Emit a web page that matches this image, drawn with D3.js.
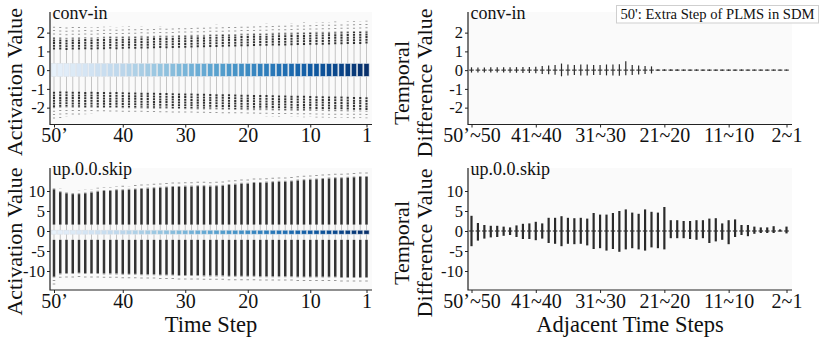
<!DOCTYPE html>
<html>
<head>
<meta charset="utf-8">
<script src="https://cdn.jsdelivr.net/npm/d3@7"></script>
<style>
  body { margin: 0; background: #fff; }
  svg text { font-family: "Liberation Serif", "Times New Roman", serif; fill: #111; }
</style>
</head>
<body>
<svg id="chart" width="831" height="338"></svg>
<script>
// categories
const steps = ["50’","50","49","48","47","46","45","44","43","42","41","40","39","38","37","36","35","34","33","32","31","30",
  "29","28","27","26","25","24","23","22","21","20","19","18","17","16","15","14","13","12","11","10",
  "9","8","7","6","5","4","3","2","1"];
const pairs = steps.slice(0, -1).map((s, i) => `${s}~${steps[i + 1]}`);
const stepTicks = ["50’","40","30","20","10","1"];
const pairTicks = ["50’~50","41~40","31~30","21~20","11~10","2~1"];

// conv-in activation (box: q1, median, q3)
const convBox = [-0.33, 0.0, 0.35];
const convWhHi = [1.10,1.10,1.08,1.10,1.10,1.12,1.10,1.12,1.12,1.14,1.12,1.14,1.15,1.14,1.16,1.15,1.17,1.18,1.17,1.18,
  1.20,1.20,1.21,1.22,1.22,1.24,1.24,1.25,1.26,1.26,1.28,1.28,1.29,1.30,1.30,1.31,1.32,1.32,1.33,1.34,
  1.34,1.35,1.36,1.36,1.37,1.38,1.38,1.39,1.40,1.40,1.42];
const convHiDense = [1.72,1.70,1.68,1.70,1.70,1.72,1.70,1.72,1.74,1.75,1.74,1.75,1.76,1.76,1.78,1.77,1.78,1.80,1.79,1.80,
  1.82,1.82,1.83,1.84,1.84,1.86,1.86,1.87,1.88,1.88,1.90,1.90,1.91,1.92,1.92,1.94,1.95,1.95,1.96,1.97,
  1.97,1.98,1.99,2.00,2.00,2.01,2.02,2.02,2.03,2.04,2.05];
const convHiMax = [2.35,2.30,2.28,2.30,2.32,2.30,2.28,2.30,2.31,2.32,2.30,2.31,2.33,2.30,2.34,2.32,2.33,2.36,2.32,2.30,
  2.33,2.30,2.34,2.36,2.38,2.35,2.42,2.38,2.40,2.42,2.44,2.42,2.46,2.44,2.47,2.49,2.50,2.48,2.51,2.52,
  2.54,2.52,2.55,2.57,2.55,2.59,2.57,2.60,2.62,2.60,2.64];
const convWhLo = [-1.15,-1.14,-1.14,-1.15,-1.15,-1.16,-1.15,-1.16,-1.17,-1.18,-1.17,-1.18,-1.19,-1.19,-1.20,-1.20,-1.21,-1.22,-1.22,-1.23,
  -1.24,-1.24,-1.25,-1.26,-1.26,-1.27,-1.28,-1.28,-1.29,-1.30,-1.31,-1.31,-1.32,-1.33,-1.33,-1.34,-1.35,-1.35,-1.36,-1.37,
  -1.37,-1.38,-1.39,-1.39,-1.40,-1.41,-1.41,-1.42,-1.43,-1.43,-1.45];
const convLoDense = [-1.98,-1.95,-1.94,-1.95,-1.95,-1.96,-1.95,-1.96,-1.96,-1.97,-1.97,-1.98,-1.98,-1.99,-1.99,-2.00,-2.00,-2.01,-2.01,-2.02,
  -2.02,-2.03,-2.03,-2.04,-2.04,-2.05,-2.05,-2.06,-2.06,-2.07,-2.07,-2.08,-2.08,-2.09,-2.09,-2.10,-2.10,-2.11,-2.11,-2.12,
  -2.12,-2.12,-2.13,-2.13,-2.14,-2.14,-2.14,-2.15,-2.15,-2.15,-2.16];
const convLoMin = [-2.62,-2.55,-2.50,-2.45,-2.38,-2.35,-2.32,-2.30,-2.30,-2.32,-2.30,-2.31,-2.32,-2.30,-2.33,-2.32,-2.33,-2.35,-2.33,-2.34,
  -2.35,-2.34,-2.36,-2.37,-2.38,-2.37,-2.40,-2.40,-2.41,-2.42,-2.43,-2.42,-2.45,-2.44,-2.46,-2.47,-2.48,-2.47,-2.49,-2.50,
  -2.51,-2.50,-2.52,-2.53,-2.52,-2.54,-2.53,-2.55,-2.56,-2.55,-2.57];

// up.0.0.skip activation
const upBox = [-0.8, -0.3, 0.2];
const upWhHi = 1.6;
const upWhLo = -2.2;
const upHiDense = [10.4,9.7,9.4,9.2,9.2,9.4,9.6,9.8,10.0,10.0,10.2,10.2,10.3,10.4,10.5,10.6,10.7,10.8,10.9,11.0,
  11.0,11.1,11.1,11.2,11.2,11.1,11.2,11.3,11.5,11.6,11.8,11.8,12.0,12.0,12.1,12.2,12.3,12.3,12.4,12.6,
  12.7,12.8,12.9,13.0,13.1,13.2,13.2,13.3,13.4,13.5,13.5];
const upHiMax = [11.0,10.6,10.2,10.0,10.1,10.3,10.5,10.8,11.0,11.0,11.2,11.3,11.2,11.5,11.6,11.6,11.8,11.9,12.0,12.1,
  12.1,12.3,12.5,12.4,12.8,12.6,12.4,12.7,12.9,13.0,13.2,13.3,13.5,13.4,13.6,13.6,13.8,13.7,13.9,14.0,
  14.1,14.2,14.3,14.3,14.5,14.6,14.5,14.6,14.7,14.8,14.8];
const upLoDense = [-11.4,-10.6,-10.5,-10.5,-10.4,-10.5,-10.5,-10.5,-10.6,-10.6,-10.6,-10.7,-10.7,-10.7,-10.8,-10.8,-10.8,-10.9,-10.9,-10.9,
  -11.0,-11.0,-11.0,-11.0,-11.1,-11.1,-11.1,-11.1,-11.2,-11.2,-11.2,-11.2,-11.2,-11.3,-11.3,-11.3,-11.3,-11.3,-11.3,-11.4,
  -11.4,-11.4,-11.4,-11.4,-11.4,-11.4,-11.5,-11.5,-11.5,-11.5,-11.5];
const upLoMin = [-13.9,-12.0,-11.8,-11.6,-11.6,-11.7,-11.6,-11.7,-11.8,-11.9,-11.8,-11.9,-12.0,-12.0,-12.1,-12.2,-12.3,-12.1,-12.2,-12.3,
  -12.5,-12.4,-12.6,-12.5,-12.7,-12.6,-12.8,-12.5,-12.7,-12.9,-12.6,-12.8,-12.7,-12.9,-12.8,-13.0,-12.8,-12.9,-13.0,-12.8,
  -12.9,-13.0,-12.9,-13.1,-12.9,-13.0,-13.1,-13.0,-12.9,-13.0,-13.1];

// temporal differences (box q1/q3, extremes)
const convDiffBox = [-0.03, 0.03];
const convDiffHi = [0.15,0.14,0.14,0.15,0.15,0.15,0.16,0.16,0.17,0.17,0.18,0.22,0.25,0.28,0.35,0.30,0.28,0.30,0.30,0.28,
  0.28,0.30,0.30,0.32,0.48,0.28,0.25,0.22,0.20,0.05,0.05,0.05,0.05,0.04,0.04,0.04,0.04,0.04,0.04,0.04,
  0.04,0.04,0.04,0.03,0.03,0.03,0.03,0.03,0.03,0.03];
const convDiffLo = [-0.13,-0.12,-0.12,-0.13,-0.13,-0.13,-0.14,-0.14,-0.15,-0.15,-0.16,-0.20,-0.22,-0.25,-0.33,-0.28,-0.26,-0.28,-0.28,-0.26,
  -0.26,-0.28,-0.28,-0.30,-0.27,-0.26,-0.23,-0.20,-0.18,-0.05,-0.05,-0.05,-0.05,-0.04,-0.04,-0.04,-0.04,-0.04,-0.04,-0.04,
  -0.04,-0.04,-0.04,-0.03,-0.03,-0.03,-0.03,-0.03,-0.03,-0.03];
const upDiffBox = [-0.15, 0.15];
const upDiffHi = [3.8,2.0,1.5,1.3,1.3,1.1,0.9,1.4,1.8,1.9,2.3,1.9,3.3,3.3,3.7,3.3,3.2,3.3,3.1,4.5,4.1,
  4.1,4.5,5.0,5.4,4.6,4.3,5.4,4.8,4.6,6.0,2.7,2.7,2.5,2.5,2.7,2.7,3.1,3.2,1.9,2.7,2.9,1.5,1.5,1.1,0.9,0.9,1.2,0.4,1.1];
const upDiffLo = [-3.8,-2.4,-1.9,-1.6,-1.5,-1.2,-1.0,-1.5,-2.0,-2.0,-2.3,-1.9,-3.0,-3.2,-3.8,-3.2,-3.3,-3.2,-3.6,-4.5,-4.3,
  -4.9,-4.5,-5.2,-4.6,-4.3,-4.6,-4.9,-4.1,-4.3,-4.6,-1.8,-1.8,-1.8,-2.0,-2.2,-1.8,-3.0,-2.6,-2.2,-3.3,-1.5,-1.0,-1.3,-0.7,-0.5,-0.5,-0.5,-0.1,-0.6];

const svg = d3.select('#chart');
const val = (a, i) => Array.isArray(a) ? a[i] : a;
const blues = i => d3.interpolateBlues(0.08 + 0.92 * i / 50);

function frame(p) {
  const g = svg.append('g');
  g.append('rect').attr('x', p.left).attr('y', p.top)
    .attr('width', p.right - p.left).attr('height', p.bottom - p.top).attr('fill', '#fafafa');
  const x = d3.scalePoint().domain(p.cats).range(p.xr);
  const y = d3.scaleLinear().domain(p.yd).range([p.bottom, p.top]);

  const ya = g.append('g').attr('transform', `translate(${p.left},0)`)
    .call(d3.axisLeft(y).tickValues(p.yTicks).tickSize(3).tickPadding(2).tickFormat(d => String(d)));
  ya.selectAll('text').attr('font-size', 16.5);
  const xa = g.append('g').attr('transform', `translate(0,${p.bottom})`)
    .call(d3.axisBottom(x).tickValues(p.xTicks).tickSize(3).tickPadding(0.5));
  xa.selectAll('text').attr('font-size', 20);
  g.selectAll('.domain').remove();
  g.selectAll('.tick line').attr('stroke', '#222');

  g.append('path').attr('d', `M${p.left},${p.top}V${p.bottom}H${p.right}`)
    .attr('fill', 'none').attr('stroke', '#222').attr('stroke-width', 1.2);
  g.append('text').attr('x', p.left + 2.5).attr('y', p.top + 7).attr('font-size', 18).text(p.title);
  return { g, x, y };
}

function activation(p, d) {
  const { g, x, y } = frame(p);
  const w = 5.2;
  const m = g.append('g');
  p.cats.forEach((c, i) => {
    const cx = x(c);
    const seg = (a, b, col, sw, dash) => m.append('line').attr('x1', cx).attr('x2', cx)
      .attr('y1', y(a)).attr('y2', y(b)).attr('stroke', col).attr('stroke-width', sw)
      .attr('stroke-dasharray', dash || null);
    seg(d.box[2], val(d.whHi, i), '#c4c4c4', 1);
    seg(d.box[0], val(d.whLo, i), '#c4c4c4', 1);
    seg(d.hiDense[i], d.hiMax[i], '#999', d.ow, '1,2.4');
    seg(d.loDense[i], d.loMin[i], '#999', d.ow, '1,2.4');
    seg(val(d.whHi, i), d.hiDense[i], '#333', d.ow, d.tex);
    seg(val(d.whLo, i), d.loDense[i], '#333', d.ow, d.tex);
    m.append('rect').attr('x', cx - w / 2).attr('width', w)
      .attr('y', y(d.box[2])).attr('height', y(d.box[0]) - y(d.box[2]))
      .attr('fill', blues(i)).attr('stroke', 'rgba(215,222,230,0.9)').attr('stroke-width', 0.6);
  });
}

function difference(p, d) {
  const { g, x, y } = frame(p);
  const w = 4.6;
  const m = g.append('g');
  p.cats.forEach((c, i) => {
    const cx = x(c);
    m.append('line').attr('x1', cx).attr('x2', cx)
      .attr('y1', y(d.hi[i])).attr('y2', y(d.lo[i]))
      .attr('stroke', '#2a2a2a').attr('stroke-width', d.lw);
    m.append('rect').attr('x', cx - w / 2).attr('width', w)
      .attr('y', y(d.box[1])).attr('height', Math.max(1, y(d.box[0]) - y(d.box[1])))
      .attr('fill', '#333');
  });
}

const topRow = { top: 12, bottom: 124.5, yd: [-2.9, 3.1], yTicks: [-2, -1, 0, 1, 2] };
const botRow = { top: 168, bottom: 290, yd: [-14.75, 15.75], yTicks: [-10, -5, 0, 5, 10] };
const leftCol = { left: 50, right: 372, xr: [54, 366.5], cats: steps, xTicks: stepTicks };
const rightCol = { left: 468, right: 792, xr: [471.5, 786.5], cats: pairs, xTicks: pairTicks };

activation({ ...topRow, ...leftCol, title: 'conv-in' },
  { box: convBox, whHi: convWhHi, whLo: convWhLo, hiDense: convHiDense, hiMax: convHiMax, loDense: convLoDense, loMin: convLoMin, ow: 2.1, tex: '2,0.7' });
activation({ ...botRow, ...leftCol, title: 'up.0.0.skip' },
  { box: upBox, whHi: upWhHi, whLo: upWhLo, hiDense: upHiDense, hiMax: upHiMax, loDense: upLoDense, loMin: upLoMin, ow: 2.5 });
difference({ ...topRow, ...rightCol, title: 'conv-in' }, { box: convDiffBox, hi: convDiffHi, lo: convDiffLo, lw: 1.2 });
difference({ ...botRow, ...rightCol, title: 'up.0.0.skip' }, { box: upDiffBox, hi: upDiffHi, lo: upDiffLo, lw: 2.2 });

// axis titles
const yTitle = (x, cy, lines) => {
  const t = svg.append('text').attr('transform', `translate(${x},${cy}) rotate(-90)`)
    .attr('text-anchor', 'middle').attr('font-size', 22);
  lines.forEach((l, k) => t.append('tspan').attr('x', 0).attr('dy', k ? 23 : 0).text(l));
};
yTitle(21.5, 82, ['Activation Value']);
yTitle(21.5, 241.5, ['Activation Value']);
yTitle(409, 83, ['Temporal', 'Difference Value']);
yTitle(409, 243, ['Temporal', 'Difference Value']);
svg.append('text').attr('x', 211).attr('y', 331.5).attr('text-anchor', 'middle').attr('font-size', 22.5).text('Time Step');
svg.append('text').attr('x', 630).attr('y', 331.5).attr('text-anchor', 'middle').attr('font-size', 22.5).text('Adjacent Time Steps');

// note box
svg.append('rect').attr('x', 616.5).attr('y', 5.5).attr('width', 202).attr('height', 17.5)
  .attr('fill', '#fff').attr('stroke', '#cfcfcf');
svg.append('text').attr('x', 717.5).attr('y', 19).attr('text-anchor', 'middle').attr('font-size', 14.6)
  .text("50': Extra Step of PLMS in SDM");
</script>
</body>
</html>
